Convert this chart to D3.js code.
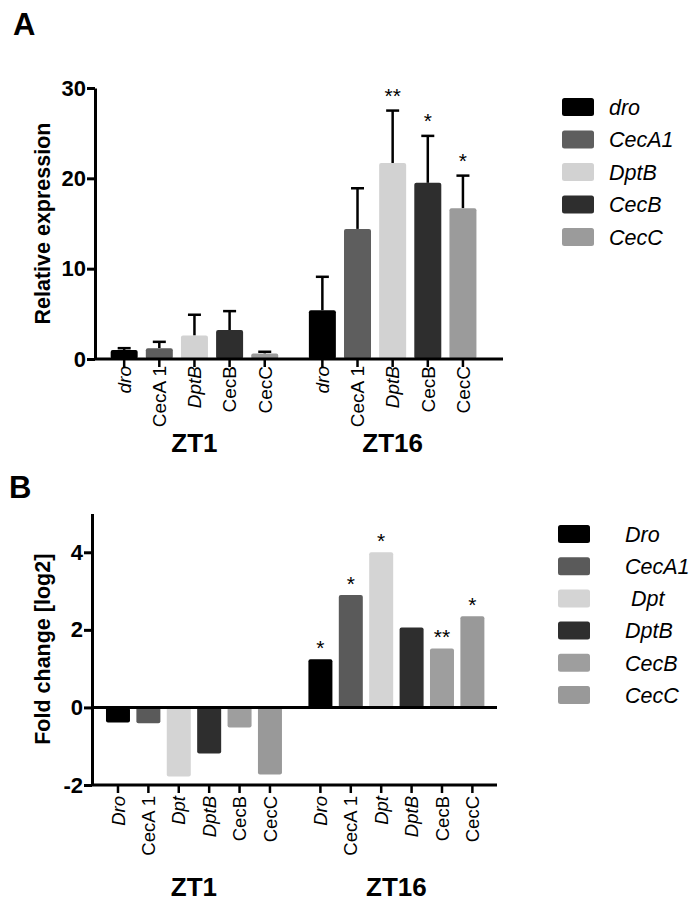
<!DOCTYPE html>
<html>
<head>
<meta charset="utf-8">
<script src="https://cdn.jsdelivr.net/npm/d3@7"></script>
<style>
  body { margin: 0; background: #fff; }
  svg { font-family: "Liberation Sans", Arial, sans-serif; }
</style>
</head>
<body>
<svg id="chart" width="697" height="911"></svg>
<script>
// ---- Panel A data ----
const genesA = ["dro", "CecA1", "DptB", "CecB", "CecC"];
const tickLabelsA = ["dro", "CecA 1", "DptB", "CecB", "CecC"];
const italicA = [true, false, true, false, false];
const colorsA = ["#000000", "#5e5e5e", "#d2d2d2", "#2e2e2e", "#9b9b9b"];
const groups = ["ZT1", "ZT16"];
const meanA = [
  [1.0, 1.2, 2.6, 3.2, 0.6],
  [5.4, 14.4, 21.7, 19.5, 16.7]
];
const errA = [
  [0.2, 0.7, 2.3, 2.1, 0.2],
  [3.7, 4.5, 5.8, 5.2, 3.6]
];
const starsA = [
  ["", "", "", "", ""],
  ["", "", "**", "*", "*"]
];
const yTicksA = [0, 10, 20, 30];

// ---- Panel B data ----
const genesB = ["Dro", "CecA1", " Dpt", "DptB", "CecB", "CecC"];
const tickLabelsB = ["Dro", "CecA 1", "Dpt", "DptB", "CecB", "CecC"];
const italicB = [true, false, true, true, false, false];
const colorsB = ["#000000", "#5a5a5a", "#d4d4d4", "#2e2e2e", "#9e9e9e", "#999999"];
const foldB = [
  [-0.39, -0.41, -1.78, -1.19, -0.52, -1.73],
  [1.24, 2.9, 4.0, 2.06, 1.52, 2.35]
];
const starsB = [
  ["", "", "", "", "", ""],
  ["*", "*", "*", "", "**", "*"]
];
const yTicksB = [-2, 0, 2, 4];

const svg = d3.select("#chart");

// panel letters
svg.append("text").attr("x", 13).attr("y", 35).attr("font-size", 31).attr("font-weight", "bold").text("A");
svg.append("text").attr("x", 9).attr("y", 498).attr("font-size", 31).attr("font-weight", "bold").text("B");

// ================= Panel A =================
const gA = svg.append("g");
const gapA = 0.64;
const posA = (g, i) => g * (genesA.length + gapA) + i;
const xA = d3.scaleLinear().domain([-0.83, 10.78]).range([95, 503]);
const yA = d3.scaleLinear().domain([0, 30]).range([359, 88]);
const bwA = 27;

groups.forEach((grp, g) => {
  genesA.forEach((gene, i) => {
    const cx = xA(posA(g, i));
    const v = meanA[g][i], e = errA[g][i];
    // error bar, upper half only
    gA.append("line").attr("x1", cx).attr("x2", cx)
      .attr("y1", yA(v)).attr("y2", yA(v + e))
      .attr("stroke", "#000").attr("stroke-width", 2.5);
    gA.append("line").attr("x1", cx - 6.5).attr("x2", cx + 6.5)
      .attr("y1", yA(v + e)).attr("y2", yA(v + e))
      .attr("stroke", "#000").attr("stroke-width", 2.5);
    gA.append("rect")
      .attr("x", cx - bwA / 2).attr("y", yA(v))
      .attr("width", bwA).attr("height", yA(0) - yA(v))
      .attr("rx", 2)
      .attr("fill", colorsA[i]);
    if (starsA[g][i]) {
      gA.append("text").attr("x", cx).attr("y", yA(v + e) - 8)
        .attr("text-anchor", "middle").attr("font-size", 21).text(starsA[g][i]);
    }
    // x tick + label
    gA.append("line").attr("x1", cx).attr("x2", cx).attr("y1", 359).attr("y2", 367)
      .attr("stroke", "#000").attr("stroke-width", 2.5);
    gA.append("text")
      .attr("transform", `translate(${cx},${366}) rotate(-90)`)
      .attr("dy", "0.36em")
      .attr("text-anchor", "end")
      .attr("font-size", 19)
      .attr("font-style", italicA[i] ? "italic" : "normal")
      .text(tickLabelsA[i]);
  });
  const mid = (xA(posA(g, 0)) + xA(posA(g, genesA.length - 1))) / 2;
  gA.append("text").attr("x", mid).attr("y", 452)
    .attr("text-anchor", "middle").attr("font-size", 26).attr("font-weight", "bold").text(grp);
});

// axes A
gA.append("line").attr("x1", 95).attr("x2", 503).attr("y1", 359).attr("y2", 359)
  .attr("stroke", "#000").attr("stroke-width", 3);
const axA = gA.append("g").attr("transform", "translate(95,0)")
  .call(d3.axisLeft(yA).tickValues(yTicksA).tickFormat(d => String(d)).tickSize(8).tickSizeOuter(0));
axA.select(".domain").attr("stroke-width", 3);
axA.selectAll(".tick line").attr("stroke-width", 3);
axA.selectAll(".tick text").attr("font-size", 22).attr("font-weight", "bold")
  .attr("font-family", "Liberation Sans, Arial, sans-serif").attr("x", -9);
gA.append("text")
  .attr("transform", `translate(50,${yA(15)}) rotate(-90)`)
  .attr("text-anchor", "middle").attr("font-size", 21.5).attr("font-weight", "bold")
  .text("Relative expression");

// legend A
genesA.forEach((gene, i) => {
  const cy = 107 + i * 32.5;
  gA.append("rect").attr("x", 562).attr("y", cy - 9).attr("width", 32).attr("height", 18)
    .attr("rx", 2.5).attr("fill", colorsA[i]);
  gA.append("text").attr("x", 609).attr("y", cy).attr("dy", "0.36em")
    .attr("font-size", 21.5).attr("font-style", "italic").text(gene);
});

// ================= Panel B =================
const gB = svg.append("g");
const gapB = 0.66;
const posB = (g, i) => g * (genesB.length + gapB) + i;
const xB = d3.scaleLinear().domain([-0.855, 12.47]).range([92, 497]);
const yB = d3.scaleLinear().domain([-2, 5]).range([785, 513.5]);
const bwB = 24;

groups.forEach((grp, g) => {
  genesB.forEach((gene, i) => {
    const cx = xB(posB(g, i));
    const v = foldB[g][i];
    gB.append("rect")
      .attr("x", cx - bwB / 2).attr("y", yB(Math.max(v, 0)))
      .attr("width", bwB).attr("height", Math.abs(yB(v) - yB(0)))
      .attr("rx", 2)
      .attr("fill", colorsB[i]);
    if (starsB[g][i]) {
      gB.append("text").attr("x", cx).attr("y", yB(v) - 4)
        .attr("text-anchor", "middle").attr("font-size", 21).text(starsB[g][i]);
    }
    gB.append("line").attr("x1", cx).attr("x2", cx).attr("y1", 785).attr("y2", 793)
      .attr("stroke", "#000").attr("stroke-width", 2.5);
    gB.append("text")
      .attr("transform", `translate(${cx},${796}) rotate(-90)`)
      .attr("dy", "0.36em")
      .attr("text-anchor", "end")
      .attr("font-size", 18.5)
      .attr("font-style", italicB[i] ? "italic" : "normal")
      .text(tickLabelsB[i]);
  });
  const mid = (xB(posB(g, 0)) + xB(posB(g, genesB.length - 1))) / 2;
  gB.append("text").attr("x", mid).attr("y", 896)
    .attr("text-anchor", "middle").attr("font-size", 26).attr("font-weight", "bold").text(grp);
});

// axes B
gB.append("line").attr("x1", 92).attr("x2", 497).attr("y1", yB(0)).attr("y2", yB(0))
  .attr("stroke", "#000").attr("stroke-width", 3);
gB.append("line").attr("x1", 92).attr("x2", 497).attr("y1", 785).attr("y2", 785)
  .attr("stroke", "#000").attr("stroke-width", 3);
const axB = gB.append("g").attr("transform", "translate(92,0)")
  .call(d3.axisLeft(yB).tickValues(yTicksB).tickFormat(d => String(d)).tickSize(8).tickSizeOuter(0));
axB.select(".domain").attr("stroke-width", 3);
axB.selectAll(".tick line").attr("stroke-width", 3);
axB.selectAll(".tick text").attr("font-size", 22).attr("font-weight", "bold")
  .attr("font-family", "Liberation Sans, Arial, sans-serif").attr("x", -9);
gB.append("text")
  .attr("transform", `translate(50,${yB(1.5)}) rotate(-90)`)
  .attr("text-anchor", "middle").attr("font-size", 21.5).attr("font-weight", "bold")
  .text("Fold change [log2]");

// legend B
genesB.forEach((gene, i) => {
  const cy = 534 + i * 32.2;
  gB.append("rect").attr("x", 558).attr("y", cy - 9).attr("width", 32).attr("height", 18)
    .attr("rx", 2.5).attr("fill", colorsB[i]);
  gB.append("text").attr("x", 625).attr("y", cy).attr("dy", "0.36em")
    .attr("font-size", 21.5).attr("font-style", "italic")
    .style("white-space", "pre").text(gene);
});
</script>
</body>
</html>
